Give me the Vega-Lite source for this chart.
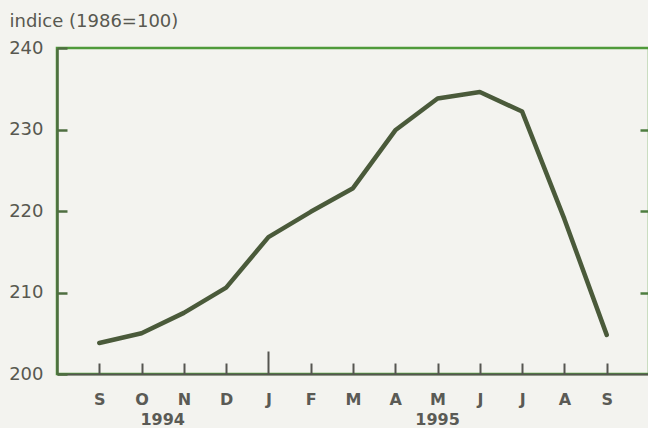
{
  "$schema": "https://vega.github.io/schema/vega-lite/v6.json",
  "width": 592,
  "height": 326,
  "autosize": "none",
  "padding": {"left": 57, "top": 48, "right": 0, "bottom": 54},
  "background": "#f3f3ef",
  "config": {
    "view": {"stroke": "#4f9a3a", "strokeWidth": 2.5},
    "axis": {"labelFont": "DejaVu Sans", "titleFont": "DejaVu Sans", "grid": false}
  },
  "data": {
    "values": [
      {"i": 0, "month": "S", "year": "1994", "value": 203.8},
      {"i": 1, "month": "O", "year": "1994", "value": 205.0},
      {"i": 2, "month": "N", "year": "1994", "value": 207.5},
      {"i": 3, "month": "D", "year": "1994", "value": 210.6},
      {"i": 4, "month": "J", "year": "1995", "value": 216.8},
      {"i": 5, "month": "F", "year": "1995", "value": 219.9},
      {"i": 6, "month": "M", "year": "1995", "value": 222.8},
      {"i": 7, "month": "A", "year": "1995", "value": 229.9},
      {"i": 8, "month": "M", "year": "1995", "value": 233.8},
      {"i": 9, "month": "J", "year": "1995", "value": 234.6},
      {"i": 10, "month": "J", "year": "1995", "value": 232.2},
      {"i": 11, "month": "A", "year": "1995", "value": 219.0},
      {"i": 12, "month": "S", "year": "1995", "value": 204.8}
    ]
  },
  "layer": [
    {
      "mark": {"type": "line", "color": "#4a5a3a", "strokeWidth": 4.5, "strokeCap": "round", "strokeJoin": "round"},
      "encoding": {
        "x": {
          "field": "i",
          "type": "quantitative",
          "scale": {"domain": [-1, 13], "nice": false, "zero": false},
          "axis": {
            "values": [0, 1, 2, 3, 4, 5, 6, 7, 8, 9, 10, 11, 12],
            "labelExpr": "['S','O','N','D','J','F','M','A','M','J','J','A','S'][datum.value]",
            "tickSize": {"condition": {"test": "datum.value == 4", "value": -23}, "value": -11},
            "labelPadding": {"condition": {"test": "datum.value == 4", "value": 40}, "value": 28},
            "tickColor": "#555550",
            "tickWidth": 2,
            "domainColor": "#555550",
            "domainWidth": 2,
            "labelFontSize": 16,
            "labelFontWeight": "bold",
            "labelColor": "#5a5a55",
            "labelFlush": false,
            "title": null
          }
        },
        "y": {
          "field": "value",
          "type": "quantitative",
          "scale": {"domain": [200, 240], "nice": false, "zero": false},
          "axis": {
            "values": [200, 210, 220, 230, 240],
            "tickSize": -10,
            "tickColor": "#4e6e40",
            "tickWidth": 2.5,
            "domainColor": "#4e6e40",
            "domainWidth": 2.5,
            "labelFontSize": 18,
            "labelColor": "#585850",
            "labelPadding": 24,
            "title": "indice (1986=100)",
            "titleAngle": 0,
            "titleAlign": "left",
            "titleBaseline": "alphabetic",
            "titleX": -48,
            "titleY": -22,
            "titleFontSize": 18,
            "titleFontWeight": "normal",
            "titleColor": "#585850"
          }
        }
      }
    },
    {
      "transform": [{"aggregate": [{"op": "mean", "field": "i", "as": "i"}], "groupby": ["year"]}],
      "mark": {"type": "text", "fontSize": 16, "fontWeight": "bold", "font": "DejaVu Sans", "color": "#5a5a55", "baseline": "middle"},
      "encoding": {
        "x": {"field": "i", "type": "quantitative"},
        "y": {
          "datum": 194.4,
          "type": "quantitative",
          "scale": {"domain": [200, 240], "nice": false, "zero": false},
          "axis": {
            "orient": "right",
            "labels": false,
            "domain": false,
            "values": [210, 220, 230],
            "tickSize": -9,
            "tickColor": "#4e7e40",
            "tickWidth": 2.5,
            "title": null
          }
        },
        "text": {"field": "year"}
      }
    }
  ],
  "resolve": {"scale": {"y": "independent"}}
}
